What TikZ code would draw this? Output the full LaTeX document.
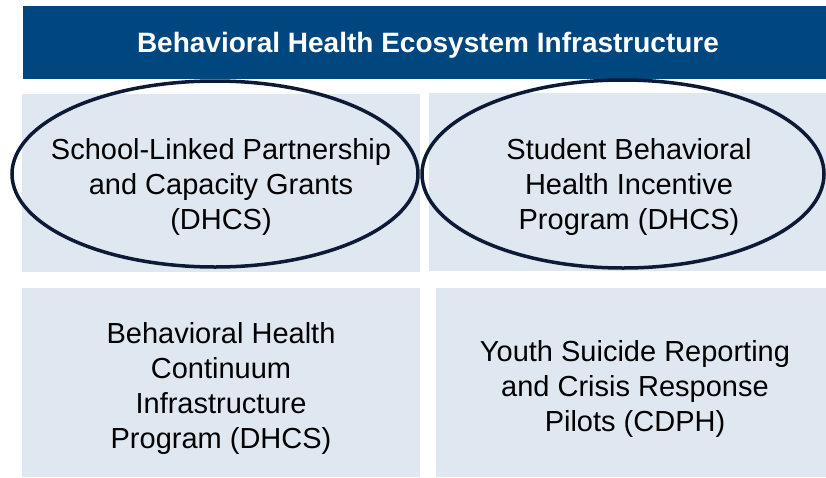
\documentclass[tikz,border=0pt]{standalone}
\usepackage{fontspec}
\setmainfont{Liberation Sans}
\usepackage{color}
\definecolor{myheaderblue}{RGB}{0,70,127}
\definecolor{mypaleblue}{RGB}{223,231,241}
\definecolor{myringnavy}{RGB}{12,26,54}
\usepackage{tikz}
\usetikzlibrary{shapes.geometric,positioning}
\tikzstyle{header}=[fill=myheaderblue,inner sep=0pt]
\tikzstyle{headertext}=[text=white,inner sep=0pt,font=\bfseries\fontsize{28}{34}\selectfont]
\tikzstyle{tile}=[fill=mypaleblue,inner sep=0pt]
\tikzstyle{tiletext}=[inner sep=0pt,align=center,font=\fontsize{29}{35}\selectfont]
\tikzstyle{ring}=[draw=myringnavy,line width=3.5pt,ellipse,inner sep=0pt]

\begin{document}
\begin{tikzpicture}[x=1pt,y=-1pt]
\useasboundingbox (0,0) rectangle (826,477);
\node [header,minimum width=803pt,minimum height=73pt] (title) at (424.5,42.5) {};
\node [headertext,xshift=3.5pt,yshift=-2.5pt] (titletext) at (title)
  {Behavioral Health Ecosystem Infrastructure};
% tiles
\node [tile,minimum width=398pt,minimum height=178pt] (grants) at (221,183) {};
\node [tile,minimum width=397pt,minimum height=178pt] (incentive) at (627.5,182) {};
\node [tile,minimum width=398pt,minimum height=189pt] (continuum) at (221,382.5) {};
\node [tile,minimum width=390pt,minimum height=189pt] (pilots) at (631,382.5) {};
\node [tiletext,yshift=-4pt] (grantstext) at (grants)
  {School-Linked Partnership\\and Capacity Grants\\(DHCS)};
\node [tiletext,xshift=1.5pt,yshift=-4.5pt] (incentivetext) at (incentive)
  {Student Behavioral\\Health Incentive\\Program (DHCS)};
\node [tiletext,yshift=-5.5pt] (continuumtext) at (continuum)
  {Behavioral Health\\Continuum\\Infrastructure\\Program (DHCS)};
\node [tiletext,xshift=4pt,yshift=-6.5pt] (pilotstext) at (pilots)
  {Youth Suicide Reporting\\and Crisis Response\\Pilots (CDPH)};
% circled programs
\node [ring,minimum width=406pt,minimum height=186pt] (ringA) at (215,174) {};
\node [ring,minimum width=402pt,minimum height=188pt] (ringB) at (623,174) {};
\end{tikzpicture}
\end{document}
